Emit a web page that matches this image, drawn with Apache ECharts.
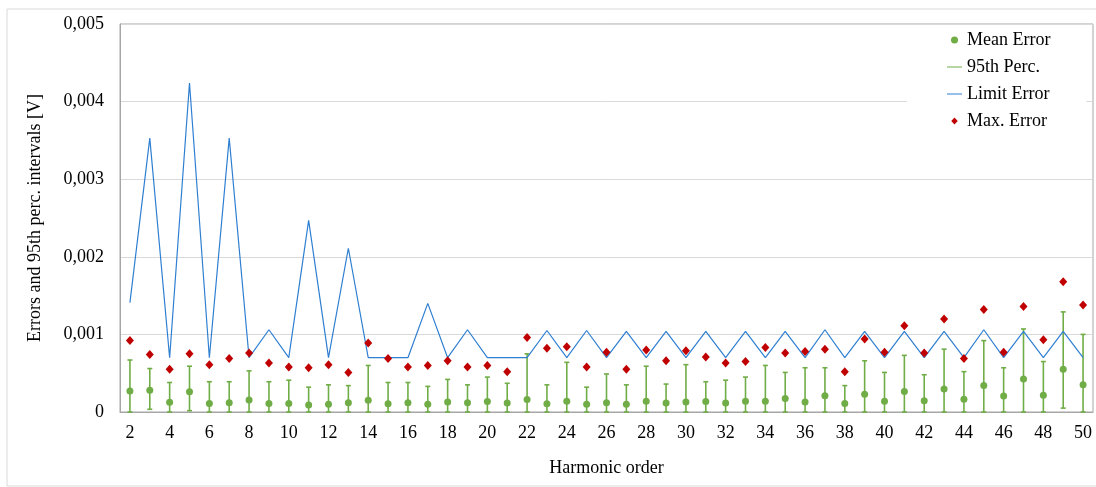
<!DOCTYPE html>
<html>
<head>
<meta charset="utf-8">
<title>Harmonic errors</title>
<script src="https://cdn.jsdelivr.net/npm/echarts@6/dist/echarts.min.js"></script>
<style>
  html, body { margin: 0; padding: 0; background: #ffffff; }
  #chart { width: 1096px; height: 487px; }
</style>
</head>
<body>
<div id="chart"></div>
<script>
// Harmonic orders on the x axis
const categories = [2, 3, 4, 5, 6, 7, 8, 9, 10, 11, 12, 13, 14, 15, 16, 17, 18, 19, 20, 21,
  22, 23, 24, 25, 26, 27, 28, 29, 30, 31, 32, 33, 34, 35, 36, 37, 38, 39, 40, 41,
  42, 43, 44, 45, 46, 47, 48, 49, 50];

// Y axis tick labels (decimal comma)
const yTickLabels = ['0', '0,001', '0,002', '0,003', '0,004', '0,005'];

// Mean error per harmonic [V]
const meanError = [0.00027, 0.00028, 0.000125, 0.00026, 0.00011, 0.00012, 0.000155, 0.00011, 0.00011, 0.00009,
  0.0001, 0.00012, 0.00015, 0.000105, 0.00012, 0.0001, 0.00013, 0.00012, 0.000135, 0.000115,
  0.00016, 0.000105, 0.00014, 0.0001, 0.00012, 0.0001, 0.00014, 0.000115, 0.00013, 0.000135,
  0.000115, 0.00014, 0.00014, 0.000175, 0.00013, 0.00021, 0.00011, 0.00023, 0.00014, 0.000265,
  0.000145, 0.000295, 0.000165, 0.00034, 0.000205, 0.000425, 0.000215, 0.00055, 0.00035];

// 95th percentile interval: lower and upper bounds [V]
const p95Low = [0, 0.000035, 0, 0.000017, 0, 0, 0, 0, 0, 0,
  0, 0, 0, 0, 0, 0, 0, 0, 0, 0,
  0, 0, 0, 0, 0, 0, 0, 0, 0, 0,
  0, 0, 0, 0, 0, 0, 0, 0, 0, 0,
  0, 0, 0, 0, 0, 0, 0, 0.00005, 0];
const p95High = [0.00067, 0.00056, 0.00038, 0.00059, 0.00039, 0.00039, 0.00053, 0.00039, 0.00041, 0.00032,
  0.00035, 0.00034, 0.0006, 0.00038, 0.00038, 0.00033, 0.00042, 0.00035, 0.00045, 0.00037,
  0.00075, 0.00035, 0.00064, 0.00032, 0.00049, 0.00035, 0.00059, 0.00036, 0.00061, 0.00039,
  0.00041, 0.00045, 0.0006, 0.00051, 0.00057, 0.00057, 0.00034, 0.00066, 0.00051, 0.00073,
  0.00048, 0.00081, 0.00052, 0.00092, 0.00057, 0.00107, 0.00065, 0.00129, 0.001];

// Limit error per harmonic [V]
const limitError = [0.00141, 0.00353, 0.0007, 0.00424, 0.0007, 0.00353, 0.0007, 0.00106, 0.0007, 0.00247,
  0.0007, 0.00211, 0.0007, 0.0007, 0.0007, 0.0014, 0.0007, 0.00106, 0.0007, 0.0007,
  0.0007, 0.00105, 0.0007, 0.00105, 0.0007, 0.00104, 0.0007, 0.00104, 0.0007, 0.00104,
  0.0007, 0.00104, 0.0007, 0.00104, 0.0007, 0.00106, 0.0007, 0.00104, 0.0007, 0.00104,
  0.0007, 0.00104, 0.0007, 0.00106, 0.0007, 0.00104, 0.0007, 0.00104, 0.0007];

// Maximum error per harmonic [V]
const maxError = [0.00092, 0.00074, 0.00055, 0.00075, 0.00061, 0.00069, 0.00076, 0.00063, 0.00058, 0.00057,
  0.00061, 0.00051, 0.00089, 0.00069, 0.00058, 0.0006, 0.00066, 0.00058, 0.0006, 0.00052,
  0.00096, 0.00082, 0.00084, 0.00058, 0.00077, 0.00055, 0.0008, 0.00066, 0.00079, 0.00071,
  0.00063, 0.00065, 0.00083, 0.00076, 0.00078, 0.00081, 0.00052, 0.00094, 0.00077, 0.00111,
  0.00076, 0.0012, 0.00069, 0.00132, 0.00077, 0.00136, 0.00093, 0.00168, 0.00138];

const GREEN = '#70ad47';
const BLUE = '#2f7fd1';
const RED = '#c00000';
const FONT = '"Liberation Serif", "Times New Roman", serif';

// Legend swatches: a thin horizontal stroke and an upright diamond
const LINE_ICON = 'path://M0,0H30V2H0Z';
const DIAMOND_ICON = 'path://M6,0L12,6.5L6,13L0,6.5Z';

const chart = echarts.init(document.getElementById('chart'), null, { renderer: 'canvas' });

// Vertical error bar with caps for the 95th percentile interval
function renderErrorBar(params, api) {
  const idx = api.value(0);
  const lo = api.coord([idx, api.value(1)]);
  const hi = api.coord([idx, api.value(2)]);
  const half = 2.5;
  const style = { stroke: GREEN, lineWidth: 1.6 };
  return {
    type: 'group',
    children: [
      { type: 'line', shape: { x1: lo[0], y1: lo[1], x2: hi[0], y2: hi[1] }, style },
      { type: 'line', shape: { x1: hi[0] - half, y1: hi[1], x2: hi[0] + half, y2: hi[1] }, style },
      { type: 'line', shape: { x1: lo[0] - half, y1: lo[1], x2: lo[0] + half, y2: lo[1] }, style }
    ]
  };
}

const option = {
  backgroundColor: '#ffffff',
  animation: false,
  graphic: [{
    type: 'rect',
    shape: { x: 7, y: 9, width: 1100, height: 477 },
    style: { fill: 'none', stroke: '#d9d9d9', lineWidth: 1 },
    silent: true,
    z: -10
  }],
  grid: {
    left: 120, right: 3, top: 24, bottom: 75,
    show: true, borderColor: '#a6a6a6', borderWidth: 1, backgroundColor: 'transparent'
  },
  legend: {
    orient: 'vertical',
    left: 907,
    top: 25,
    padding: [5, 36, 8, 40],
    backgroundColor: '#ffffff',
    itemWidth: 15,
    itemHeight: 7,
    itemGap: 7,
    symbolKeepAspect: true,
    textStyle: { fontFamily: FONT, fontSize: 18, color: '#000', lineHeight: 20 },
    data: [
      { name: 'Mean Error', icon: 'circle' },
      { name: '95th Perc.', icon: LINE_ICON, itemStyle: { color: GREEN } },
      { name: 'Limit Error', icon: LINE_ICON, itemStyle: { color: BLUE } },
      { name: 'Max. Error', icon: DIAMOND_ICON }
    ]
  },
  xAxis: {
    type: 'category',
    data: categories,
    boundaryGap: true,
    name: 'Harmonic order',
    nameLocation: 'middle',
    nameGap: 47,
    nameTextStyle: { fontFamily: FONT, fontSize: 18, color: '#000' },
    axisLine: { show: true, lineStyle: { color: '#a6a6a6', width: 1 } },
    axisTick: { show: false },
    axisLabel: { interval: 1, margin: 12, fontFamily: FONT, fontSize: 18, color: '#000' },
    splitLine: { show: false }
  },
  yAxis: {
    type: 'value',
    min: 0,
    max: 0.005,
    interval: 0.001,
    name: 'Errors and 95th perc. intervals [V]',
    nameLocation: 'middle',
    nameGap: 76,
    nameTextStyle: { fontFamily: FONT, fontSize: 18, color: '#000' },
    axisLine: { show: true, lineStyle: { color: '#a6a6a6', width: 1 } },
    axisTick: { show: false },
    axisLabel: {
      margin: 16, fontFamily: FONT, fontSize: 18, color: '#000',
      formatter: (v, i) => yTickLabels[i]
    },
    splitLine: { show: true, lineStyle: { color: '#d9d9d9', width: 1 } }
  },
  series: [
    {
      name: '95th Perc.',
      type: 'custom',
      renderItem: renderErrorBar,
      data: categories.map((c, i) => [i, p95Low[i], p95High[i]]),
      encode: { x: 0, y: [1, 2] },
      itemStyle: { color: GREEN },
      z: 2
    },
    {
      name: 'Mean Error',
      type: 'scatter',
      data: meanError,
      symbol: 'circle',
      symbolSize: 7,
      itemStyle: { color: GREEN, opacity: 1 },
      z: 3
    },
    {
      name: 'Limit Error',
      type: 'line',
      data: limitError,
      symbol: 'none',
      lineStyle: { color: BLUE, width: 1.2 },
      itemStyle: { color: BLUE },
      z: 4
    },
    {
      name: 'Max. Error',
      type: 'scatter',
      data: maxError,
      symbol: 'diamond',
      symbolSize: [8, 9],
      itemStyle: { color: RED, opacity: 1 },
      z: 5
    }
  ]
};

chart.setOption(option);
</script>
</body>
</html>
